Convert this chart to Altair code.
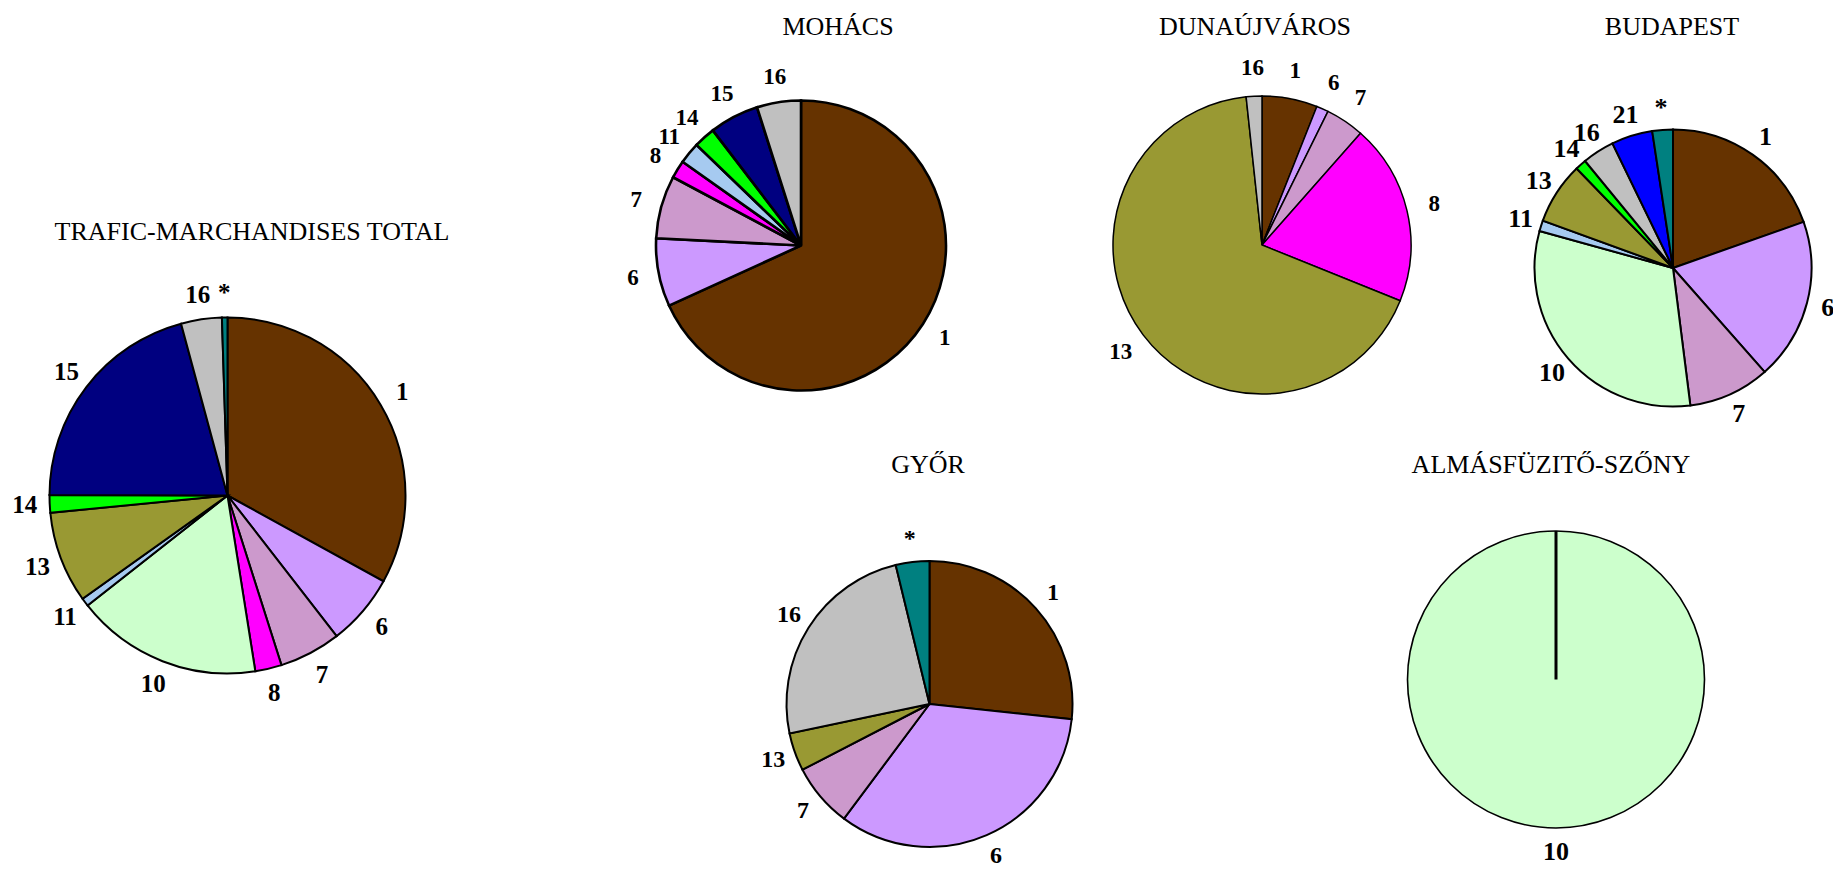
import altair as alt
import pandas as pd

# ---- data (percent shares by commodity group) ----
total_cats = ["1", "6", "7", "8", "10", "11", "13", "14", "15", "16", "*"]
total_vals = [33.0, 6.5, 5.6, 2.4, 16.9, 0.75, 8.3, 1.6, 20.75, 3.7, 0.5]

mohacs_cats = ["1", "6", "7", "8", "11", "14", "15", "16"]
mohacs_vals = [68.2, 7.6, 7.0, 2.0, 2.4, 2.4, 5.5, 4.9]

duna_cats = ["1", "6", "7", "8", "13", "16"]
duna_vals = [6.0, 1.3, 4.2, 19.6, 67.2, 1.7]

buda_cats = ["1", "6", "7", "10", "11", "13", "14", "16", "21", "*"]
buda_vals = [19.6, 18.9, 9.5, 31.3, 1.25, 7.2, 1.3, 3.75, 4.8, 2.4]

gyor_cats = ["1", "6", "7", "13", "16", "*"]
gyor_vals = [26.7, 33.5, 7.2, 4.3, 24.5, 3.8]

almas_cats = ["10"]
almas_vals = [100.0]

titles = ["TRAFIC-MARCHANDISES TOTAL", "MOHÁCS", "DUNAÚJVÁROS", "BUDAPEST", "GYŐR", "ALMÁSFÜZITŐ-SZŐNY"]

color_domain = ["1", "6", "7", "8", "10", "11", "13", "14", "15", "16", "21", "*"]
color_range = ["#663300", "#CC99FF", "#CC99CC", "#FF00FF", "#CCFFCC", "#A6CAF0",
               "#999933", "#00FF00", "#000080", "#C0C0C0", "#0000FF", "#008080"]

SERIF = "Liberation Serif"
OFF = 8  # page margin

color = alt.Color("cat:N", scale=alt.Scale(domain=color_domain, range=color_range), legend=None)

# layout: (cats, vals, title, cx, cy, r, label_r, label_size, stroke_w, title_x, title_y)
pies = [
    (total_cats, total_vals, titles[0], 227.5, 495.5, 178, 203, 25, 2.0, 252, 232),
    (mohacs_cats, mohacs_vals, titles[1], 801, 245.5, 145, 171, 23, 2.6, 838, 27),
    (duna_cats, duna_vals, titles[2], 1262, 245, 149, 177, 23, 1.5, 1255, 27),
    (buda_cats, buda_vals, titles[3], 1673, 268, 138.5, 160, 26, 2.0, 1672, 27),
    (gyor_cats, gyor_vals, titles[4], 929.5, 704, 143, 166, 24, 2.0, 928, 465),
    (almas_cats, almas_vals, titles[5], 1556, 679.5, 148.5, 172, 26, 1.6, 1551, 465),
]

layers = []
for cats, vals, title, cx, cy, r, lr, ls, sw, tx, ty in pies:
    df = pd.DataFrame({"cat": cats, "value": vals, "idx": list(range(len(cats)))})
    base = alt.Chart(df).encode(
        theta=alt.Theta("value:Q", stack=True),
        order=alt.Order("idx:Q", sort="ascending"),
        x=alt.value(cx - OFF),
        y=alt.value(cy - OFF),
    )
    arcs = base.mark_arc(radius=r, stroke="black", strokeWidth=sw).encode(color=color)
    labels = base.mark_text(radius=lr, font=SERIF, fontWeight="bold", fontSize=ls,
                            align="center", baseline="middle", color="black").encode(text="cat:N")
    layers += [arcs, labels]
    tdf = pd.DataFrame({"t": [title]})
    layers.append(
        alt.Chart(tdf).mark_text(font=SERIF, fontSize=26, align="center", baseline="middle",
                                 color="black").encode(text="t:N", x=alt.value(tx - OFF), y=alt.value(ty - OFF))
    )
    if len(cats) == 1:
        # slice border drawn at the start of the single full slice
        layers.append(
            alt.Chart(df).mark_arc(radius=r, theta=0, theta2=0, stroke="black", strokeWidth=3, fill="black")
            .encode(x=alt.value(cx - OFF), y=alt.value(cy - OFF))
        )

chart = alt.layer(*layers).resolve_scale(theta="independent").properties(
    width=1825, height=860, autosize="none", padding=0
).configure_view(stroke=None)

chart.save("out.html", embed_options={"renderer": "svg", "actions": False})
